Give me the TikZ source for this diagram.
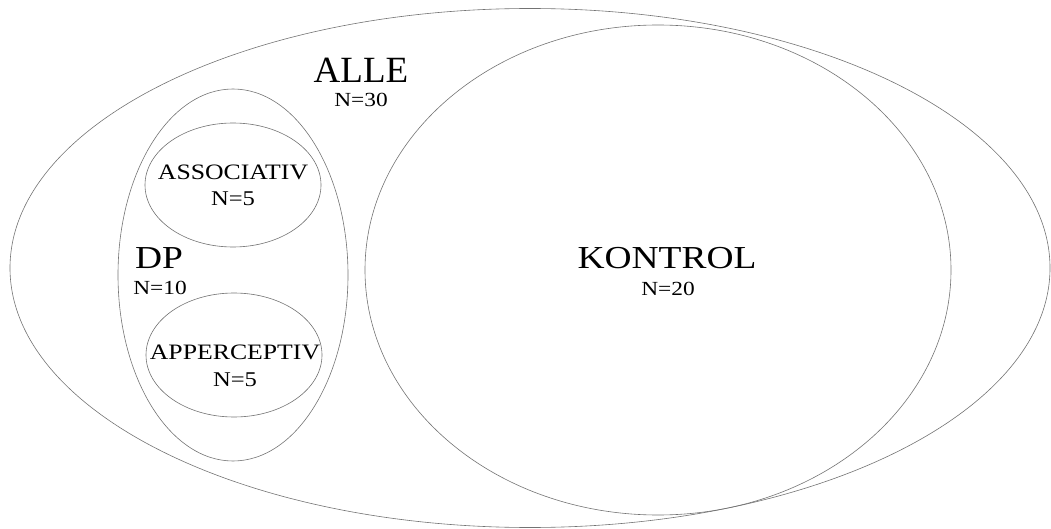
\documentclass[tikz,border=0pt]{standalone}
\usepackage{fontspec}
\setmainfont{Liberation Serif}
\newfontfamily\wfont[FakeStretch=1.17]{Liberation Serif}
\usetikzlibrary{shapes.geometric}
\tikzset{
  set/.style={draw=black!55, line width=0.6pt, ellipse, inner sep=0pt},
  lbl/.style={anchor=base, inner sep=0pt, font=\wfont},
}
\begin{document}
\begin{tikzpicture}[x=1pt,y=-1pt]
\useasboundingbox (0,0) rectangle (1051,529);
\node[set, minimum width=1040pt, minimum height=519pt] (alle) at (530,268) {};
\node[set, minimum width=586pt, minimum height=490pt] (kontrol) at (658,270) {};
\node[set, minimum width=230pt, minimum height=372pt] (dp) at (233,275) {};
\node[set, minimum width=176pt, minimum height=124pt] (assoc) at (233,185) {};
\node[set, minimum width=176pt, minimum height=124pt] (apper) at (234,355) {};
\node[lbl, font=\fontsize{37}{40}\selectfont] (tAlle) at (361,83) {ALLE};
\node[lbl, font=\wfont\fontsize{20}{22}\selectfont] (nAlle) at (361,107) {N=30};
\node[lbl, font=\wfont\fontsize{32}{34}\selectfont] (tDp) at (159,268) {DP};
\node[lbl, font=\wfont\fontsize{20}{22}\selectfont] (nDp) at (160,294) {N=10};
\node[lbl, font=\wfont\fontsize{22}{24}\selectfont] (tAssoc) at (233,180) {ASSOCIATIV};
\node[lbl, font=\wfont\fontsize{21}{23}\selectfont] (nAssoc) at (233,206) {N=5};
\node[lbl, font=\wfont\fontsize{22}{24}\selectfont] (tApper) at (235,359) {APPERCEPTIV};
\node[lbl, font=\wfont\fontsize{21}{23}\selectfont] (nApper) at (235,386) {N=5};
\node[lbl, font=\wfont\fontsize{32}{34}\selectfont] (tKon) at (667,269) {KONTROL};
\node[lbl, font=\wfont\fontsize{20}{22}\selectfont] (nKon) at (668,295) {N=20};
\end{tikzpicture}
\end{document}
